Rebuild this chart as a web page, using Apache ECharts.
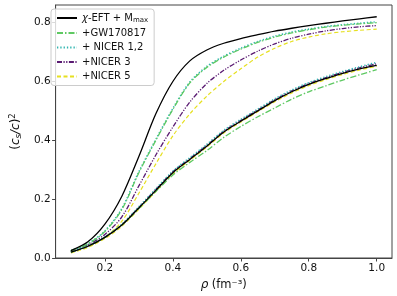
<!DOCTYPE html>
<html><head><meta charset="utf-8">
<script src="https://cdn.jsdelivr.net/npm/echarts@6/dist/echarts.min.js"></script>
<style>html,body{margin:0;padding:0;background:#fff}#c{width:397px;height:296px}</style>
</head><body><div id="c"></div>
<script>
const rho = [0.1,0.15,0.2,0.25,0.3,0.35,0.4,0.45,0.5,0.55,0.6,0.65,0.7,0.75,0.8,0.85,0.9,0.95,1.0];
// upper branch
const blackUp  = [0.025,0.055,0.115,0.21,0.345,0.49,0.60,0.67,0.707,0.73,0.746,0.759,0.771,0.781,0.79,0.798,0.806,0.813,0.82];
const greenUp  = [0.025,0.048,0.09,0.165,0.29,0.40,0.505,0.595,0.648,0.683,0.71,0.733,0.751,0.765,0.776,0.785,0.791,0.796,0.80];
const tealUp   = [0.025,0.049,0.092,0.168,0.293,0.403,0.508,0.598,0.651,0.686,0.713,0.736,0.754,0.768,0.778,0.787,0.793,0.798,0.803];
const purpleUp = [0.025,0.045,0.08,0.14,0.245,0.35,0.445,0.53,0.593,0.638,0.673,0.703,0.728,0.747,0.761,0.772,0.78,0.786,0.79];
const yellowUp = [0.022,0.04,0.07,0.125,0.22,0.32,0.415,0.49,0.55,0.60,0.643,0.683,0.713,0.736,0.751,0.762,0.769,0.774,0.778];
// lower branch
const blackLo  = [0.02,0.04,0.07,0.112,0.17,0.23,0.29,0.335,0.38,0.428,0.465,0.50,0.535,0.565,0.59,0.61,0.628,0.643,0.655];
const greenLo  = [0.02,0.04,0.07,0.112,0.168,0.226,0.282,0.325,0.365,0.41,0.447,0.48,0.51,0.54,0.565,0.585,0.605,0.623,0.64];
const tealLo   = [0.021,0.041,0.072,0.115,0.174,0.235,0.295,0.341,0.386,0.434,0.471,0.506,0.541,0.571,0.596,0.616,0.634,0.65,0.665];
const purpleLo = [0.02,0.04,0.071,0.113,0.172,0.233,0.293,0.338,0.383,0.431,0.468,0.503,0.538,0.568,0.593,0.613,0.631,0.647,0.66];
const yellowLo = [0.017,0.036,0.066,0.108,0.166,0.226,0.286,0.332,0.377,0.425,0.462,0.497,0.531,0.561,0.586,0.606,0.624,0.639,0.652];
const names = ['χ-EFT + Mmax','+GW170817','+ NICER 1,2','+NICER 3','+NICER 5'];
const xTicks = [0.2,0.4,0.6,0.8,1.0];
const yTicks = [0,0.2,0.4,0.6,0.8];

const styles = [
  {color:'#000000', type:'solid', width:1.3},
  {color:'#5ec962', type:[6,2,1.5,2], width:1.3},
  {color:'#2fb5b0', type:[1.3,2], width:1.6},
  {color:'#5a1a72', type:[5,1.5,1.2,1.5,1.2,1.5], width:1.3},
  {color:'#e6e020', type:[4,2.5], width:1.2}
];
const upper = [blackUp,greenUp,tealUp,purpleUp,yellowUp];
const lower = [blackLo,greenLo,tealLo,purpleLo,yellowLo];
const series = [];
for (let i = 0; i < 5; i++) {
  for (const arr of [upper[i], lower[i]]) {
    series.push({
      type:'line', name:names[i], symbol:'none', smooth:0.3,
      data: rho.map((x,k)=>[x,arr[k]]),
      lineStyle:{color:styles[i].color,type:styles[i].type,width:styles[i].width},
      itemStyle:{color:styles[i].color},
      z: 2 + (4-i)
    });
  }
}
const chart = echarts.init(document.getElementById('c'), null, {renderer:'canvas'});
chart.setOption({
  animation:false,
  backgroundColor:'#fff',
  grid:{left:44,right:5,top:5,bottom:38,show:true,borderColor:'#444',borderWidth:1},
  legend:{
    data:names, orient:'vertical', left:51, top:9,
    itemWidth:20, itemHeight:8, itemGap:4.5,
    itemStyle:{opacity:0},
    backgroundColor:'rgba(255,255,255,0.8)', borderColor:'#ccc', borderWidth:1, borderRadius:3,
    padding:[4,6,4,5],
    textStyle:{fontFamily:'DejaVu Sans',fontSize:10,color:'#111',
      rich:{a:{fontFamily:'DejaVu Sans',fontSize:10,color:'#111'},
            i:{fontFamily:'DejaVu Sans',fontSize:10,fontStyle:'italic',color:'#111'},
            s:{fontFamily:'DejaVu Sans',fontSize:7,color:'#111',verticalAlign:'bottom',padding:[4,0,0,0]}}},
    formatter:function(n){ if(n===names[0]) return '{i|χ}{a|-EFT + M}{s|max}'; return n; }
  },
  xAxis:{type:'value',min:0.055,max:1.045,
    axisLine:{show:true,lineStyle:{color:'#444'}},
    axisTick:{show:true,inside:false,length:3.5,customValues:xTicks,lineStyle:{color:'#444'}},
    axisLabel:{customValues:xTicks,fontFamily:'DejaVu Sans',fontSize:10.5,color:'#111',margin:5,formatter:v=>v.toFixed(1)},
    splitLine:{show:false},
    name:'{i|ρ} {a|(fm⁻³)}',nameLocation:'middle',nameGap:21,
    nameTextStyle:{rich:{i:{fontFamily:'DejaVu Sans',fontSize:12,fontStyle:'italic',color:'#111'},a:{fontFamily:'DejaVu Sans',fontSize:11.5,color:'#111'}}}
  },
  yAxis:{type:'value',min:0,max:0.86,
    axisLine:{show:true,lineStyle:{color:'#444'}},
    axisTick:{show:true,inside:false,length:3.5,customValues:yTicks,lineStyle:{color:'#444'}},
    axisLabel:{customValues:yTicks,fontFamily:'DejaVu Sans',fontSize:10.5,color:'#111',margin:5,formatter:v=>v.toFixed(1)},
    splitLine:{show:false},
    name:'{a|(}{i|c}{s|s}{i|/c}{a|)}{p|2}',nameLocation:'middle',nameGap:29,nameRotate:90,
    nameTextStyle:{rich:{
      a:{fontFamily:'DejaVu Sans',fontSize:12,color:'#111'},
      i:{fontFamily:'DejaVu Sans',fontSize:12,fontStyle:'italic',color:'#111'},
      s:{fontFamily:'DejaVu Sans',fontSize:8.5,fontStyle:'italic',color:'#111',verticalAlign:'bottom',padding:[5,0,0,0]},
      p:{fontFamily:'DejaVu Sans',fontSize:8.5,color:'#111',verticalAlign:'top',padding:[0,0,6,0]}}}
  },
  series:series
});
</script></body></html>
